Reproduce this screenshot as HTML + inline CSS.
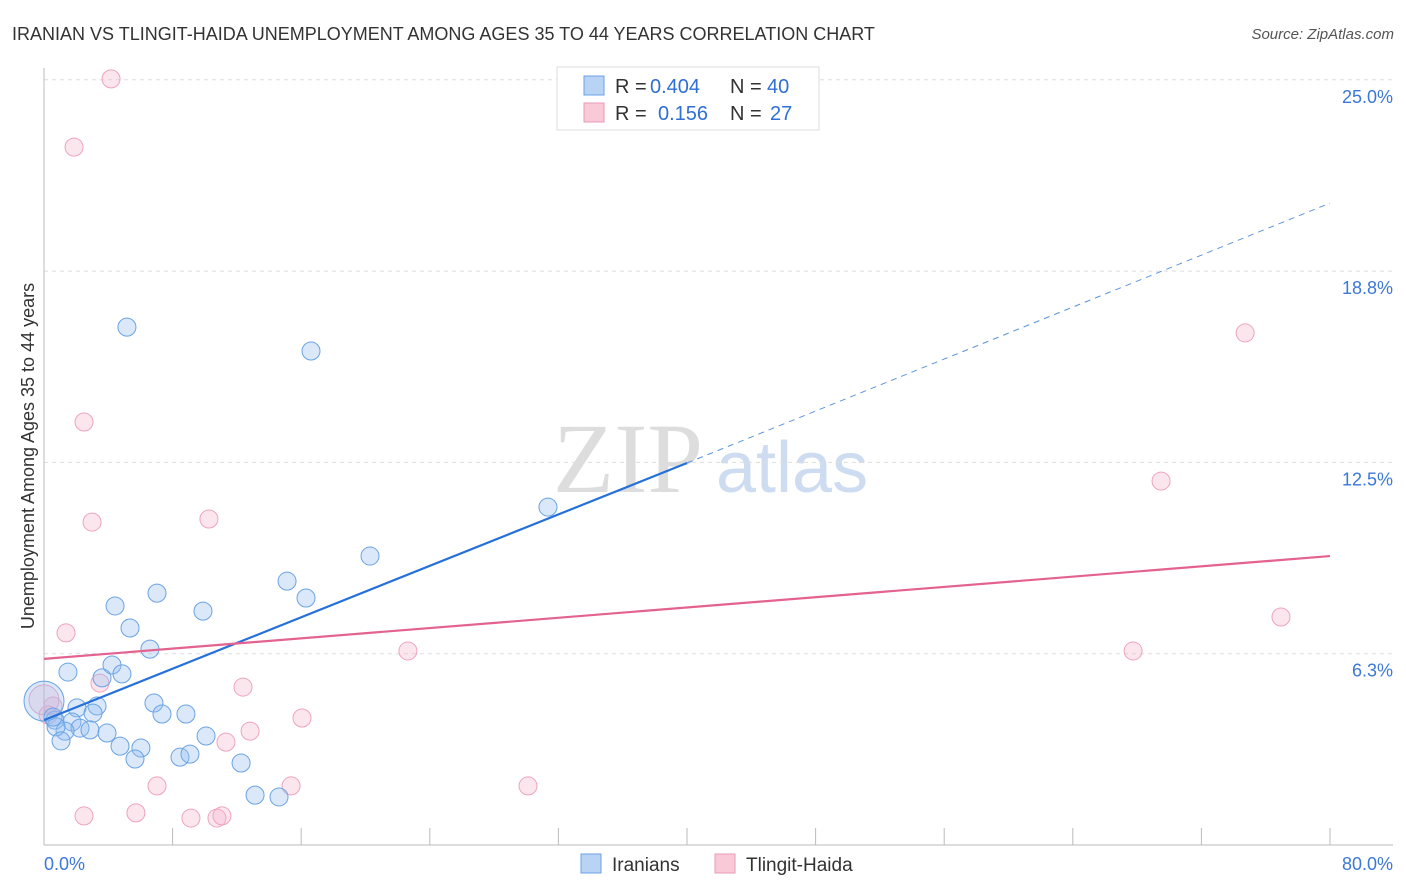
<!DOCTYPE html>
<html><head><meta charset="utf-8"><style>
body{margin:0;background:#fff;font-family:"Liberation Sans",sans-serif;}
</style></head><body>
<svg id="c" width="1406" height="892" style="display:block">
<text x="12" y="40" font-size="18" fill="#333">IRANIAN VS TLINGIT-HAIDA UNEMPLOYMENT AMONG AGES 35 TO 44 YEARS CORRELATION CHART</text>
<text x="1394" y="39" font-size="15" fill="#555" text-anchor="end" font-style="italic">Source: ZipAtlas.com</text>
<text transform="translate(34,456) rotate(-90)" font-size="18" fill="#333" text-anchor="middle">Unemployment Among Ages 35 to 44 years</text>
<g><text x="553" y="492" font-size="100" fill="#ddd" font-family="Liberation Serif,serif">ZIP</text><text x="716" y="492" font-size="72" fill="#cddcf0">atlas</text></g>
<g id="grid"></g><g id="axes"></g><g id="pts"></g><g id="trend"></g>
<g>
<rect x="557" y="67" width="262" height="63" fill="#fff" stroke="#ddd"/>
<rect x="584" y="76" width="20" height="19" fill="#b9d3f5" stroke="#6aa0e6"/>
<text y="93" font-size="20" fill="#333"><tspan x="615">R =</tspan><tspan x="650" fill="#2f6fd6">0.404</tspan><tspan x="730">N =</tspan><tspan x="767" fill="#2f6fd6">40</tspan></text>
<rect x="584" y="103" width="20" height="19" fill="#f9c9d8" stroke="#e89ab5"/>
<text y="120" font-size="20" fill="#333"><tspan x="615">R =</tspan><tspan x="658" fill="#2f6fd6">0.156</tspan><tspan x="730">N =</tspan><tspan x="770" fill="#2f6fd6">27</tspan></text>
</g>
<g>
<rect x="581" y="854" width="20" height="19" fill="#b9d3f5" stroke="#6aa0e6"/>
<text x="612" y="871" font-size="19" fill="#333">Iranians</text>
<rect x="715" y="854" width="20" height="19" fill="#f9c9d8" stroke="#e89ab5"/>
<text x="746" y="871" font-size="19" fill="#333">Tlingit-Haida</text>
</g>
</svg>
<script>
const yTicks=[25,18.75,12.5,6.25];
const yTickLabels=["25.0%","18.8%","12.5%","6.3%"];
const xTickLabels=["0.0%","80.0%"];
const blueX=[5.16,16.61,31.35,20.28,15.12,16.30,7.03,4.42,9.89,5.35,6.59,1.49,4.23,4.85,3.61,6.84,3.30,2.05,3.05,7.34,8.83,0.68,1.74,2.24,2.86,1.31,0.75,3.92,10.08,1.06,4.73,6.03,8.46,9.08,5.66,12.26,13.13,14.62,0,0.56];
const blueY=[16.92,16.14,11.04,9.44,8.62,8.07,8.23,7.81,7.64,7.09,6.40,5.65,5.88,5.59,5.46,4.64,4.54,4.48,4.31,4.28,4.28,4.08,4.02,3.82,3.76,3.72,3.86,3.66,3.56,3.40,3.23,3.17,2.87,2.97,2.81,2.68,1.63,1.57,4.70,4.18];
const pinkX=[4.17,1.87,2.49,2.99,10.26,1.37,74.72,69.49,76.95,22.64,67.75,3.48,12.38,16.05,12.82,11.32,0.56,0.25,7.03,15.37,30.11,2.49,5.72,9.14,10.76,11.07,0];
const pinkY=[25.03,22.80,13.82,10.55,10.65,6.93,16.73,11.89,7.45,6.34,6.34,5.29,5.16,4.15,3.72,3.36,4.54,4.25,1.93,1.93,1.93,0.95,1.05,0.88,0.88,0.95,4.74];
const blueTrend=[4.08,12.48,20.97];
const pinkTrend=[6.08,9.44];
const NS="http://www.w3.org/2000/svg";
const X=v=>44+v/80*1286, Y=v=>845-v/6.25*191.3;
function mk(p,t,a){const e=document.createElementNS(NS,t);for(const k in a)e.setAttribute(k,a[k]);document.getElementById(p).appendChild(e);return e;}
yTicks.forEach((t,i)=>{
 let l=mk('grid','line',{x1:44,x2:1393,y1:Y(t),y2:Y(t),stroke:'#ddd','stroke-dasharray':'4,4'});
 
 
 let tx=mk('grid','text',{x:1393,y:Y(t)+23,'font-size':18,fill:'#3b78d8','text-anchor':'end'});tx.textContent=yTickLabels[i];
 
 
});
mk('axes','line',{x1:44,x2:44,y1:68,y2:845,stroke:'#bbb'});
mk('axes','line',{x1:44,x2:1393,y1:845,y2:845,stroke:'#bbb'});
for(let i=1;i<=10;i++){let l=mk('axes','line',{x1:X(i*8),x2:X(i*8),y1:828,y2:845,stroke:'#bbb'});}
[[0,44,'start'],[80,1393,'end']].forEach((d,i)=>{let t=mk('axes','text',{x:d[1],y:870,'font-size':18,fill:'#3b78d8','text-anchor':d[2]});t.textContent=xTickLabels[i];
 
 });
pinkX.forEach((x,i)=>{let c=mk('pts','circle',{cx:X(x),cy:Y(pinkY[i]),r:x===0?15:9,fill:'rgba(246,172,198,0.3)',stroke:'#eea3bd','stroke-width':1});
 
 });
blueX.forEach((x,i)=>{let c=mk('pts','circle',{cx:X(x),cy:Y(blueY[i]),r:x===0?20:9,fill:'rgba(150,190,240,0.35)',stroke:'#6aa3e4','stroke-width':1});
 
 });
let b=mk('trend','line',{x1:X(0),y1:Y(blueTrend[0]),x2:X(40),y2:Y(blueTrend[1]),stroke:'#2570d9','stroke-width':2.2});


let bd=mk('trend','line',{x1:X(40),y1:Y(blueTrend[1]),x2:X(80),y2:Y(blueTrend[2]),stroke:'#5b93e0','stroke-width':1,'stroke-dasharray':'6,5'});


let p=mk('trend','line',{x1:X(0),y1:Y(pinkTrend[0]),x2:X(80),y2:Y(pinkTrend[1]),stroke:'#e4628f','stroke-width':2.2});


</script>
</body></html>
